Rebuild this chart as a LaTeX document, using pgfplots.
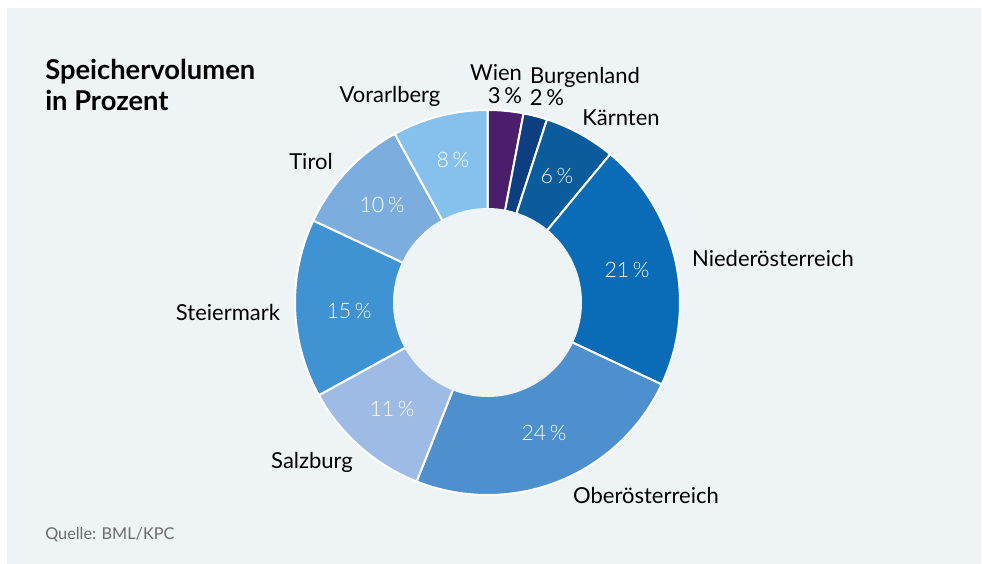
\documentclass[border=0pt]{standalone}
\usepackage{pgfplots}
\pgfplotsset{compat=1.18}
\usepackage{fontspec}
\setmainfont{Lato}
\newfontfamily\lightfont{Lato Light}
\definecolor{bg}{HTML}{EEF3F6}
\definecolor{cWien}{HTML}{4A1E6B}
\definecolor{cBgld}{HTML}{0D3F80}
\definecolor{cKtn}{HTML}{0A5C9C}
\definecolor{cNOE}{HTML}{0A6CB6}
\definecolor{cOOE}{HTML}{4E8FCE}
\definecolor{cSbg}{HTML}{9DBBE5}
\definecolor{cStmk}{HTML}{4093D3}
\definecolor{cTirol}{HTML}{7BAEDE}
\definecolor{cVbg}{HTML}{85C1EC}
\tikzset{lbl/.style={font=\fontsize{16.5pt}{19pt}\selectfont,text=black},
  inl/.style={font=\lightfont\fontsize{16pt}{18pt}\selectfont,text=white},
  ttl/.style={anchor=base west,inner sep=0pt,font=\fontsize{20.5pt}{24pt}\bfseries\selectfont}}
% slice: start cumulative %, end cumulative %, colour
\newcommand{\slice}[3]{%
  \addplot[fill=#3, draw=white, line width=1.5pt, domain={90-3.6*(#2)}:{90-3.6*(#1)}, samples=60, variable=\t]
    ({487.5+192.5*cos(\t)},{261.5+192.5*sin(\t)}) -- (axis cs:487.5,261.5) -- cycle;}
\begin{document}
\begin{tikzpicture}
\begin{axis}[width=736.5pt,height=423pt,scale only axis,
  xmin=0,xmax=982,ymin=0,ymax=564,axis lines=none,ticks=none,clip=false]
\addplot[fill=white,draw=none] coordinates {(0,0)(982,0)(982,564)(0,564)} -- cycle;
\addplot[fill=bg,draw=none] coordinates {(7,0)(981,0)(981,556)(7,556)} -- cycle;
% data: Wien 3, Burgenland 2, Kaernten 6, NOE 21, OOE 24, Salzburg 11, Steiermark 15, Tirol 10, Vorarlberg 8
\slice{0}{3}{cWien}
\slice{3}{5}{cBgld}
\slice{5}{11}{cKtn}
\slice{11}{32}{cNOE}
\slice{32}{56}{cOOE}
\slice{56}{67}{cSbg}
\slice{67}{82}{cStmk}
\slice{82}{92}{cTirol}
\slice{92}{100}{cVbg}
\addplot[fill=bg,draw=none,domain=0:360,samples=120,variable=\t]
  ({487.5+94.5*cos(\t)},{261.5+94.5*sin(\t)}) -- cycle;
% title
\node[ttl] at (axis cs:45,484) {Speichervolumen};
\node[ttl] at (axis cs:45,453) {in Prozent};
% outer labels
\node[lbl] at (axis cs:496,491) {Wien};
\node[lbl] at (axis cs:505,468) {3\,\%};
\node[lbl] at (axis cs:585,487) {Burgenland};
\node[lbl] at (axis cs:547,466) {2\,\%};
\node[lbl] at (axis cs:621,446) {Kärnten};
\node[lbl] at (axis cs:773,306) {Niederösterreich};
\node[lbl] at (axis cs:646,69) {Oberösterreich};
\node[lbl] at (axis cs:312,102) {Salzburg};
\node[lbl] at (axis cs:228,252) {Steiermark};
\node[lbl] at (axis cs:311,403) {Tirol};
\node[lbl] at (axis cs:390,468) {Vorarlberg};
% inner labels
\node[inl] at (axis cs:453,404) {8\,\%};
\node[inl] at (axis cs:557,388) {6\,\%};
\node[inl] at (axis cs:627,294) {21\,\%};
\node[inl] at (axis cs:544,131) {24\,\%};
\node[inl] at (axis cs:392,155) {11\,\%};
\node[inl] at (axis cs:349,253) {15\,\%};
\node[inl] at (axis cs:382,359) {10\,\%};
\node[anchor=west,inner sep=0pt,text=black!58,font=\fontsize{12.2pt}{14pt}\selectfont] at (axis cs:45,29) {Quelle: BML/KPC};
\end{axis}
\end{tikzpicture}
\end{document}
